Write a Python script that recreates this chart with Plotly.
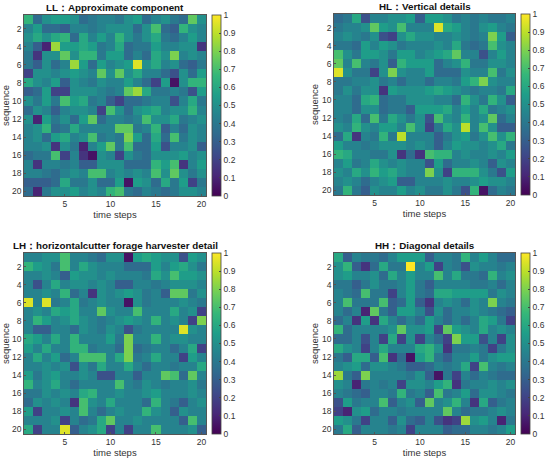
import plotly.graph_objects as go

# 20x20 coefficient maps, rows = sequence 1..20, cols = time steps 1..20
steps = list(range(1, 21))
seq = list(range(1, 21))

ll_z = [
    [0.65,0.35,0.5,0.55,0.55,0.5,0.35,0.4,0.45,0.45,0.4,0.5,0.55,0.35,0.45,0.5,0.4,0.35,0.75,0.5],
    [0.45,0.55,0.35,0.35,0.3,0.45,0.45,0.4,0.45,0.5,0.5,0.5,0.35,0.5,0.7,0.35,0.3,0.65,0.5,0.45],
    [0.5,0.6,0.5,0.6,0.65,0.35,0.6,0.45,0.55,0.45,0.65,0.5,0.4,0.5,0.6,0.4,0.35,0.45,0.55,0.45],
    [0.45,0.3,0.1,0.85,0.55,0.55,0.6,0.55,0.4,0.45,0.6,0.35,0.4,0.4,0.55,0.45,0.45,0.5,0.5,0.15],
    [0.4,0.15,0.5,0.5,0.75,0.5,0.65,0.65,0.4,0.55,0.55,0.35,0.45,0.35,0.6,0.5,0.8,0.45,0.5,0.45],
    [0.4,0.3,0.5,0.35,0.45,0.85,0.55,0.35,0.55,0.45,0.5,0.55,0.95,0.5,0.6,0.45,0.5,0.35,0.3,0.4],
    [0.2,0.5,0.5,0.45,0.5,0.55,0.5,0.45,0.75,0.5,0.75,0.5,0.6,0.45,0.45,0.35,0.25,0.5,0.35,0.55],
    [0.6,0.5,0.45,0.55,0.3,0.5,0.45,0.4,0.5,0.45,0.45,0.55,0.45,0.35,0.2,0.55,0.05,0.5,0.65,0.65],
    [0.3,0.35,0.55,0.2,0.2,0.5,0.5,0.5,0.45,0.4,0.45,0.75,0.85,0.6,0.4,0.4,0.45,0.4,0.25,0.55],
    [0.5,0.4,0.55,0.4,0.7,0.55,0.6,0.4,0.45,0.3,0.2,0.35,0.35,0.4,0.45,0.45,0.25,0.45,0.6,0.4],
    [0.35,0.5,0.45,0.3,0.45,0.5,0.5,0.45,0.2,0.7,0.5,0.35,0.5,0.55,0.6,0.45,0.5,0.5,0.65,0.45],
    [0.5,0.1,0.55,0.4,0.5,0.35,0.55,0.75,0.35,0.45,0.45,0.4,0.45,0.7,0.5,0.5,0.6,0.4,0.45,0.5],
    [0.45,0.5,0.65,0.35,0.4,0.6,0.45,0.45,0.45,0.45,0.75,0.75,0.4,0.45,0.65,0.3,0.45,0.35,0.5,0.45],
    [0.45,0.5,0.35,0.55,0.6,0.45,0.5,0.7,0.4,0.45,0.4,0.8,0.55,0.35,0.6,0.35,0.7,0.4,0.5,0.45],
    [0.45,0.45,0.5,0.15,0.5,0.4,0.1,0.45,0.55,0.75,0.4,0.7,0.35,0.35,0.55,0.25,0.45,0.45,0.5,0.3],
    [0.35,0.4,0.4,0.7,0.2,0.45,0.15,0.05,0.5,0.45,0.2,0.5,0.4,0.35,0.5,0.5,0.5,0.55,0.45,0.5],
    [0.45,0.15,0.45,0.45,0.4,0.45,0.3,0.3,0.5,0.5,0.5,0.35,0.35,0.35,0.65,0.55,0.7,0.15,0.45,0.55],
    [0.45,0.45,0.4,0.35,0.45,0.5,0.45,0.7,0.7,0.45,0.5,0.45,0.5,0.45,0.7,0.5,0.75,0.5,0.4,0.5],
    [0.3,0.3,0.3,0.35,0.6,0.4,0.4,0.5,0.35,0.35,0.55,0.05,0.55,0.5,0.35,0.6,0.4,0.55,0.2,0.4],
    [0.35,0.1,0.4,0.5,0.5,0.55,0.45,0.5,0.45,0.65,0.7,0.4,0.35,0.45,0.4,0.35,0.4,0.5,0.5,0.45],
]

hl_z = [
    [0.35,0.4,0.6,0.25,0.45,0.45,0.5,0.5,0.55,0.3,0.55,0.55,0.5,0.4,0.45,0.4,0.45,0.4,0.4,0.45],
    [0.4,0.45,0.45,0.5,0.75,0.55,0.5,0.7,0.45,0.45,0.45,0.95,0.6,0.55,0.45,0.4,0.5,0.55,0.45,0.4],
    [0.45,0.5,0.45,0.4,0.5,0.25,0.2,0.5,0.6,0.5,0.5,0.45,0.45,0.5,0.45,0.4,0.45,0.8,0.55,0.3],
    [0.4,0.4,0.35,0.55,0.45,0.55,0.5,0.4,0.45,0.45,0.45,0.5,0.45,0.6,0.4,0.35,0.4,0.7,0.5,0.45],
    [0.7,0.5,0.4,0.55,0.55,0.5,0.4,0.55,0.55,0.45,0.5,0.55,0.6,0.75,0.45,0.45,0.25,0.45,0.55,0.45],
    [0.75,0.45,0.7,0.45,0.4,0.5,0.3,0.65,0.55,0.55,0.55,0.35,0.45,0.5,0.65,0.4,0.4,0.5,0.5,0.45],
    [0.95,0.5,0.4,0.4,0.2,0.5,0.8,0.5,0.45,0.45,0.55,0.35,0.35,0.35,0.5,0.45,0.45,0.7,0.4,0.5],
    [0.4,0.4,0.45,0.45,0.5,0.4,0.45,0.35,0.45,0.45,0.35,0.45,0.45,0.4,0.55,0.65,0.8,0.5,0.45,0.45],
    [0.4,0.5,0.4,0.5,0.5,0.15,0.55,0.5,0.5,0.5,0.55,0.6,0.55,0.5,0.45,0.4,0.45,0.45,0.4,0.6],
    [0.45,0.45,0.35,0.6,0.65,0.35,0.4,0.4,0.5,0.5,0.5,0.45,0.45,0.35,0.65,0.5,0.4,0.65,0.5,0.3],
    [0.45,0.45,0.35,0.5,0.5,0.35,0.4,0.4,0.3,0.55,0.55,0.55,0.6,0.45,0.55,0.45,0.6,0.4,0.45,0.5],
    [0.45,0.4,0.6,0.35,0.7,0.4,0.6,0.5,0.4,0.5,0.25,0.7,0.5,0.45,0.65,0.45,0.5,0.75,0.35,0.45],
    [0.5,0.45,0.65,0.5,0.45,0.55,0.55,0.45,0.7,0.5,0.2,0.4,0.6,0.5,0.9,0.45,0.7,0.5,0.3,0.3],
    [0.35,0.6,0.15,0.45,0.4,0.65,0.4,0.9,0.45,0.45,0.45,0.3,0.4,0.5,0.55,0.4,0.5,0.7,0.5,0.65],
    [0.55,0.45,0.45,0.4,0.45,0.5,0.5,0.5,0.45,0.5,0.45,0.3,0.45,0.55,0.5,0.5,0.45,0.5,0.6,0.4],
    [0.65,0.6,0.45,0.45,0.4,0.4,0.5,0.15,0.35,0.15,0.7,0.65,0.65,0.45,0.5,0.45,0.45,0.5,0.45,0.55],
    [0.45,0.55,0.4,0.45,0.6,0.5,0.45,0.5,0.45,0.45,0.25,0.55,0.35,0.45,0.45,0.5,0.45,0.3,0.5,0.45],
    [0.5,0.45,0.6,0.5,0.65,0.55,0.6,0.5,0.45,0.45,0.8,0.5,0.2,0.65,0.65,0.65,0.5,0.4,0.25,0.55],
    [0.45,0.5,0.45,0.35,0.45,0.5,0.55,0.3,0.3,0.45,0.45,0.45,0.5,0.45,0.45,0.5,0.55,0.5,0.5,0.45],
    [0.4,0.65,0.4,0.3,0.5,0.45,0.45,0.55,0.45,0.5,0.4,0.4,0.5,0.4,0.25,0.65,0.05,0.35,0.45,0.4],
]

lh_z = [
    [0.45,0.45,0.5,0.5,0.7,0.45,0.45,0.4,0.35,0.5,0.5,0.05,0.55,0.6,0.55,0.5,0.5,0.25,0.55,0.5],
    [0.65,0.55,0.5,0.4,0.7,0.45,0.6,0.5,0.45,0.45,0.45,0.35,0.35,0.35,0.55,0.45,0.55,0.6,0.5,0.4],
    [0.45,0.45,0.5,0.45,0.3,0.55,0.5,0.5,0.45,0.5,0.45,0.45,0.45,0.4,0.6,0.5,0.7,0.55,0.55,0.5],
    [0.45,0.25,0.45,0.6,0.45,0.5,0.5,0.45,0.5,0.45,0.3,0.3,0.45,0.45,0.4,0.45,0.5,0.5,0.5,0.45],
    [0.45,0.45,0.5,0.45,0.65,0.35,0.45,0.15,0.5,0.45,0.5,0.55,0.5,0.4,0.45,0.3,0.75,0.75,0.4,0.5],
    [0.95,0.45,0.95,0.4,0.45,0.6,0.4,0.45,0.5,0.45,0.45,0.05,0.5,0.4,0.45,0.45,0.45,0.5,0.45,0.4],
    [0.45,0.5,0.45,0.6,0.55,0.6,0.45,0.45,0.75,0.5,0.45,0.45,0.7,0.45,0.45,0.45,0.6,0.45,0.5,0.2],
    [0.45,0.65,0.55,0.45,0.5,0.6,0.5,0.45,0.4,0.45,0.5,0.55,0.5,0.45,0.65,0.45,0.5,0.45,0.2,0.8],
    [0.45,0.3,0.3,0.45,0.45,0.35,0.5,0.45,0.4,0.5,0.45,0.25,0.4,0.45,0.45,0.45,0.45,0.95,0.5,0.45],
    [0.6,0.55,0.45,0.6,0.45,0.65,0.45,0.45,0.45,0.55,0.4,0.8,0.45,0.45,0.65,0.45,0.5,0.5,0.45,0.45],
    [0.55,0.45,0.6,0.45,0.45,0.65,0.65,0.4,0.45,0.45,0.35,0.8,0.35,0.4,0.45,0.45,0.35,0.45,0.6,0.2],
    [0.45,0.6,0.45,0.55,0.35,0.45,0.7,0.7,0.7,0.45,0.6,0.8,0.4,0.45,0.6,0.45,0.45,0.2,0.55,0.45],
    [0.45,0.45,0.5,0.45,0.5,0.25,0.5,0.4,0.6,0.45,0.45,0.6,0.45,0.35,0.45,0.45,0.4,0.45,0.45,0.6],
    [0.55,0.4,0.5,0.55,0.45,0.45,0.5,0.45,0.25,0.25,0.45,0.45,0.3,0.45,0.45,0.75,0.7,0.35,0.75,0.45],
    [0.65,0.45,0.5,0.6,0.45,0.35,0.45,0.45,0.45,0.45,0.7,0.45,0.4,0.5,0.45,0.4,0.45,0.45,0.5,0.4],
    [0.4,0.4,0.5,0.45,0.5,0.45,0.6,0.65,0.45,0.45,0.5,0.45,0.45,0.5,0.55,0.45,0.45,0.45,0.5,0.45],
    [0.35,0.5,0.45,0.5,0.45,0.15,0.7,0.5,0.45,0.6,0.45,0.45,0.45,0.35,0.65,0.45,0.4,0.3,0.45,0.5],
    [0.55,0.2,0.45,0.45,0.5,0.45,0.7,0.45,0.35,0.45,0.5,0.45,0.45,0.65,0.5,0.45,0.3,0.5,0.45,0.45],
    [0.45,0.45,0.45,0.5,0.2,0.45,0.35,0.4,0.6,0.75,0.45,0.45,0.5,0.45,0.45,0.45,0.45,0.3,0.7,0.45],
    [0.6,0.2,0.45,0.45,0.95,0.3,0.45,0.5,0.6,0.2,0.45,0.2,0.45,0.45,0.7,0.45,0.45,0.45,0.5,0.3],
]

hh_z = [
    [0.6,0.3,0.45,0.4,0.4,0.35,0.45,0.55,0.55,0.55,0.3,0.45,0.45,0.4,0.65,0.45,0.55,0.45,0.35,0.35],
    [0.5,0.65,0.3,0.15,0.35,0.6,0.4,0.4,1.0,0.45,0.55,0.2,0.45,0.4,0.25,0.5,0.45,0.45,0.4,0.45],
    [0.5,0.55,0.45,0.45,0.5,0.35,0.6,0.45,0.55,0.45,0.45,0.7,0.45,0.6,0.4,0.4,0.35,0.65,0.45,0.5],
    [0.4,0.4,0.3,0.4,0.5,0.4,0.4,0.45,0.55,0.4,0.3,0.45,0.45,0.45,0.45,0.4,0.4,0.45,0.35,0.45],
    [0.45,0.4,0.35,0.7,0.4,0.4,0.2,0.45,0.55,0.4,0.35,0.6,0.6,0.55,0.55,0.55,0.55,0.4,0.5,0.45],
    [0.45,0.7,0.4,0.4,0.4,0.7,0.3,0.35,0.55,0.3,0.15,0.45,0.5,0.45,0.35,0.5,0.45,0.8,0.45,0.4],
    [0.45,0.35,0.45,0.1,0.75,0.4,0.3,0.55,0.55,0.45,0.25,0.5,0.35,0.45,0.45,0.5,0.45,0.4,0.35,0.3],
    [0.35,0.45,0.15,0.55,0.15,0.6,0.45,0.35,0.45,0.35,0.55,0.45,0.35,0.45,0.35,0.45,0.6,0.55,0.4,0.2],
    [0.65,0.35,0.45,0.45,0.45,0.45,0.5,0.75,0.5,0.5,0.55,0.2,0.75,0.55,0.5,0.45,0.6,0.45,0.5,0.45],
    [0.35,0.35,0.45,0.25,0.45,0.2,0.6,0.2,0.5,0.2,0.45,0.35,0.2,0.8,0.55,0.55,0.25,0.45,0.2,0.5],
    [0.6,0.5,0.45,0.2,0.45,0.6,0.45,0.45,0.45,0.6,0.65,0.5,0.15,0.4,0.4,0.45,0.4,0.2,0.4,0.5],
    [0.4,0.3,0.6,0.6,0.3,0.7,0.15,0.35,0.05,0.55,0.65,0.4,0.3,0.45,0.45,0.55,0.4,0.5,0.55,0.55],
    [0.45,0.5,0.55,0.35,0.5,0.5,0.45,0.4,0.3,0.3,0.35,0.45,0.4,0.45,0.6,0.2,0.7,0.45,0.4,0.45],
    [0.85,0.4,0.3,0.8,0.45,0.45,0.45,0.45,0.4,0.5,0.3,0.05,0.4,0.2,0.45,0.35,0.45,0.4,0.35,0.35],
    [0.5,0.45,0.1,0.4,0.45,0.4,0.45,0.2,0.5,0.5,0.45,0.55,0.65,0.15,0.4,0.45,0.45,0.5,0.45,0.5],
    [0.45,0.4,0.35,0.3,0.45,0.45,0.4,0.65,0.4,0.45,0.3,0.7,0.4,0.45,0.55,0.35,0.5,0.5,0.45,0.4],
    [0.25,0.55,0.4,0.45,0.45,0.7,0.3,0.45,0.5,0.3,0.75,0.45,0.5,0.65,0.45,0.15,0.6,0.3,0.4,0.45],
    [0.2,0.1,0.5,0.55,0.35,0.45,0.45,0.4,0.45,0.45,0.45,0.45,0.75,0.45,0.35,0.4,0.4,0.45,0.5,0.45],
    [0.55,0.5,0.4,0.2,0.45,0.45,0.3,0.5,0.35,0.3,0.45,0.25,0.15,0.2,0.85,0.5,0.55,0.45,0.1,0.4],
    [0.4,0.6,0.3,0.45,0.45,0.45,0.4,0.45,0.2,0.45,0.45,0.45,0.3,0.35,0.35,0.45,0.45,0.4,0.45,0.55],
]

titles = ["LL：Approximate component", "HL：Vertical details",
          "LH：horizontalcutter forage harvester detail", "HH：Diagonal details"]
cbar_ticks = [0, 0.1, 0.2, 0.3, 0.4, 0.5, 0.6, 0.7, 0.8, 0.9, 1]
cbar_text = ["0", "0.1", "0.2", "0.3", "0.4", "0.5", "0.6", "0.7", "0.8", "0.9", "1"]

W, H = 550, 461
# pixel boxes of each heatmap: (left, right, top, bottom)
boxes = [(24, 206, 15, 196), (334, 515, 14, 195), (24, 206, 253, 434), (334, 515, 253, 434)]
cbar_left = [212, 521, 212, 521]

FONT = "Liberation Sans"
fig = go.Figure()

for i, (z, box) in enumerate(zip([ll_z, hl_z, lh_z, hh_z], boxes)):
    l, r, t, b = box
    n = "" if i == 0 else str(i + 1)
    xd = [l / W, r / W]
    yd = [1 - b / H, 1 - t / H]
    fig.add_trace(go.Heatmap(
        z=z, x=steps, y=seq, colorscale="Viridis", zmin=0, zmax=1,
        xaxis="x" + n, yaxis="y" + n, hoverinfo="skip",
        colorbar=dict(
            x=cbar_left[i] / W, xanchor="left", xref="paper", xpad=0, ypad=0,
            y=(yd[0] + yd[1]) / 2, yanchor="middle", len=yd[1] - yd[0], lenmode="fraction",
            thickness=9, outlinewidth=0.8, outlinecolor="#444",
            tickvals=cbar_ticks, ticktext=cbar_text, ticks="inside", ticklen=2,
            tickcolor="#444",
            tickfont=dict(family=FONT, size=8.5, color="#333"),
        ),
    ))
    axis = dict(showline=True, linecolor="#555", linewidth=0.8, mirror=True,
                showgrid=False, zeroline=False, ticks="inside", ticklen=2,
                tickcolor="#555", tickfont=dict(family=FONT, size=8.5, color="#333"),
                automargin=False)
    fig.layout["xaxis" + n] = dict(axis, domain=xd, anchor="y" + n, range=[0.5, 20.5],
                                   tickvals=[5, 10, 15, 20],
                                   title=dict(text="time steps", standoff=1,
                                              font=dict(family=FONT, size=9.5, color="#333")))
    fig.layout["yaxis" + n] = dict(axis, domain=yd, anchor="x" + n, range=[20.5, 0.5],
                                   tickvals=list(range(2, 21, 2)),
                                   title=dict(text="sequence", standoff=1,
                                              font=dict(family=FONT, size=9.5, color="#333")))
    fig.add_annotation(text="<b>" + titles[i] + "</b>", xref="paper", yref="paper",
                       x=(xd[0] + xd[1]) / 2, y=yd[1], yanchor="bottom", xanchor="center",
                       showarrow=False, yshift=0,
                       font=dict(family=FONT, size=9.8, color="#111"))

fig.update_layout(width=W, height=H, margin=dict(l=0, r=0, t=0, b=0),
                  paper_bgcolor="white", plot_bgcolor="white", showlegend=False)

fig.write_html("out.html", config={"displayModeBar": False},
               post_script="document.body.style.margin='0';")
